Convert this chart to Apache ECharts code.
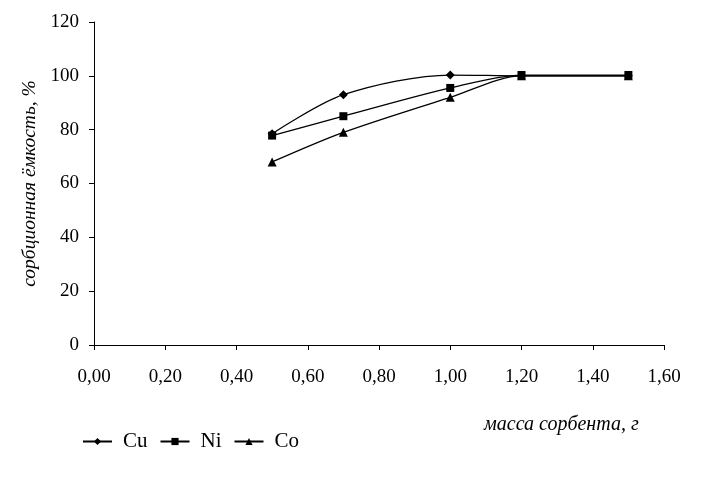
<!DOCTYPE html>
<html><head><meta charset="utf-8">
<script src="https://cdn.jsdelivr.net/npm/echarts@6/dist/echarts.min.js"></script>
<style>html,body{margin:0;padding:0;background:#fff}#c{width:709px;height:478px}</style>
</head><body><div id="c"></div>
<script>
var xValues = [0.5, 0.7, 1.0, 1.2, 1.5];
var cu = [78.5, 93, 100.3, 100, 100];
var ni = [77.8, 85, 95.5, 100.3, 100.3];
var co = [68, 79, 92, 100, 100];
var seriesNames = ['Cu', 'Ni', 'Co'];
var yTitle = 'сорбционная ёмкость, %';
var xTitle = 'масса сорбента, г';

function pairs(arr){ return xValues.map(function(x,i){ return [x, arr[i]]; }); }
var font = 'Liberation Serif, Times New Roman, serif';
var chart = echarts.init(document.getElementById('c'));
var mk = function(name, data, sym, size){
  return {name:name, type:'line', data:pairs(data), smooth:0.3, symbol:sym, symbolSize:size,
    lineStyle:{color:'#000', width:1.3}, itemStyle:{color:'#000'}, animation:false};
};
chart.setOption({
  animation:false,
  grid:{left:94, right:45, top:22, bottom:133},
  title:{text:xTitle, left:479, top:410, textStyle:{fontFamily:font, fontStyle:'italic', fontWeight:'normal', fontSize:20, color:'#000'}},
  legend:{left:77, top:426, itemWidth:29, itemHeight:9, itemGap:12,
    textStyle:{fontFamily:font, fontSize:21, color:'#000', padding:[0,0,0,6]},
    data:seriesNames},
  xAxis:{type:'value', min:0, max:1.6, interval:0.2,
    axisLine:{lineStyle:{color:'#000'}}, axisTick:{length:5, lineStyle:{color:'#000'}},
    splitLine:{show:false},
    axisLabel:{fontFamily:font, fontSize:19, color:'#000', margin:23,
      formatter:function(v){ return v.toFixed(2).replace('.', ','); }}},
  yAxis:{type:'value', min:0, max:120, interval:20, name:yTitle, nameLocation:'middle', nameGap:53,
    nameTextStyle:{fontFamily:font, fontStyle:'italic', fontSize:19.5, color:'#000'},
    axisLine:{show:true, lineStyle:{color:'#000'}}, axisTick:{show:true, length:5, lineStyle:{color:'#000'}},
    splitLine:{show:false},
    axisLabel:{fontFamily:font, fontSize:19, color:'#000', margin:15}},
  series:[mk('Cu', cu, 'diamond', 9), mk('Ni', ni, 'rect', 8), mk('Co', co, 'triangle', 9)]
});
</script></body></html>
